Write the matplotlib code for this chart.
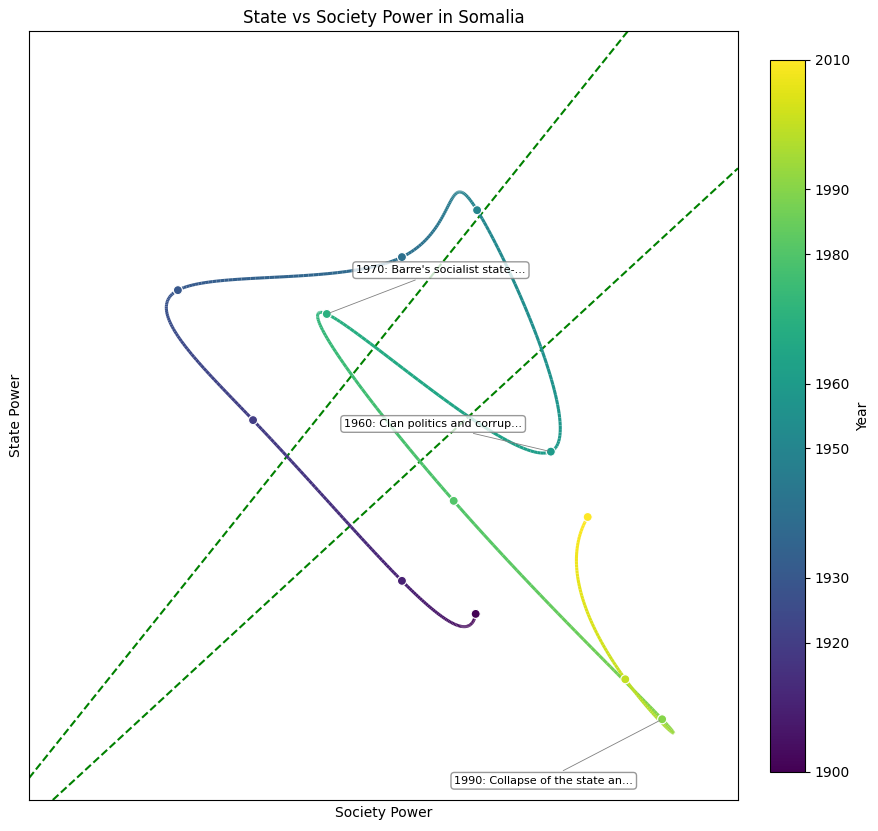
import matplotlib
matplotlib.use("Agg")
import matplotlib.pyplot as plt
import numpy as np
from matplotlib.collections import LineCollection

# key points of the trajectory (one per decade)
years = [1900, 1910, 1920, 1930, 1940, 1950, 1960, 1970, 1980, 1990, 2000, 2010]
society_power = [82.0, 71.6, 50.6, 40.0, 71.6, 82.2, 92.6, 61.0, 78.9, 108.3, 103.1, 97.8]
state_power = [43.2, 47.5, 68.4, 85.3, 89.6, 95.7, 64.3, 82.2, 57.9, 29.5, 34.7, 55.8]

event_years = [1970, 1960, 1990]
event_labels = [
    "1970: Barre's socialist state-...",
    "1960: Clan politics and corrup...",
    "1990: Collapse of the state an...",
]

cbar_ticks = [1900, 1920, 1930, 1950, 1960, 1980, 1990, 2010]


def spline(t, y, tt):
    """Not-a-knot cubic spline through (t, y), evaluated at tt."""
    t = np.asarray(t, float)
    y = np.asarray(y, float)
    n = len(t)
    h = np.diff(t)
    A = np.zeros((n, n))
    b = np.zeros(n)
    A[0, :3] = [h[1], -(h[0] + h[1]), h[0]]
    A[-1, -3:] = [h[-1], -(h[-2] + h[-1]), h[-2]]
    for i in range(1, n - 1):
        A[i, i - 1] = h[i - 1]
        A[i, i] = 2 * (h[i - 1] + h[i])
        A[i, i + 1] = h[i]
        b[i] = 3 * ((y[i + 1] - y[i]) / h[i] - (y[i] - y[i - 1]) / h[i - 1])
    c = np.linalg.solve(A, b)
    idx = np.clip(np.searchsorted(t, tt) - 1, 0, n - 2)
    dt = tt - t[idx]
    bb = (y[idx + 1] - y[idx]) / h[idx] - h[idx] * (2 * c[idx] + c[idx + 1]) / 3
    d = (c[idx + 1] - c[idx]) / (3 * h[idx])
    return y[idx] + bb * dt + c[idx] * dt**2 + d * dt**3


tt = np.linspace(years[0], years[-1], 600)
xs = spline(years, society_power, tt)
ys = spline(years, state_power, tt)

fig = plt.figure(figsize=(8.79, 8.31), dpi=100)
ax = fig.add_axes([0.033, 0.0373, 0.8066, 0.9254])
cax = fig.add_axes([0.876, 0.071, 0.0398, 0.857])

norm = plt.Normalize(1900, 2010)
cmap = plt.get_cmap("viridis")

pts = np.column_stack([xs, ys]).reshape(-1, 1, 2)
segs = np.concatenate([pts[:-1], pts[1:]], axis=1)
lc = LineCollection(segs, cmap=cmap, norm=norm, linewidth=2.2, zorder=2)
lc.set_array((tt[:-1] + tt[1:]) / 2)
ax.add_collection(lc)

ax.scatter(society_power, state_power, c=years, cmap=cmap, norm=norm,
           s=42, edgecolors="white", linewidths=0.8, zorder=3)

# threshold lines
ax.axline((0, 0), slope=1.15, color="green", linestyle="--", linewidth=1.5, zorder=1)
ax.axline((0, 0), slope=0.85, color="green", linestyle="--", linewidth=1.5, zorder=1)

text_pos = [(77.1, 87.9), (76.0, 67.9), (91.6, 21.5)]
for yr, label, pos in zip(event_years, event_labels, text_pos):
    i = years.index(yr)
    ax.annotate(label, xy=(society_power[i], state_power[i]), xytext=pos,
                fontsize=8, ha="center", va="center", zorder=4,
                bbox=dict(boxstyle="round,pad=0.3", fc="white", ec="gray", alpha=0.8),
                arrowprops=dict(arrowstyle="-", color="gray", lw=0.6))

ax.set_xlim(19, 119)
ax.set_ylim(19, 119)
ax.set_xticks([])
ax.set_yticks([])
ax.set_title("State vs Society Power in Somalia")
ax.set_xlabel("Society Power")
ax.set_ylabel("State Power")

sm = plt.cm.ScalarMappable(norm=norm, cmap=cmap)
cb = fig.colorbar(sm, cax=cax)
cb.set_ticks(cbar_ticks)
cb.set_label("Year")

fig.savefig("out.png", dpi=100)
